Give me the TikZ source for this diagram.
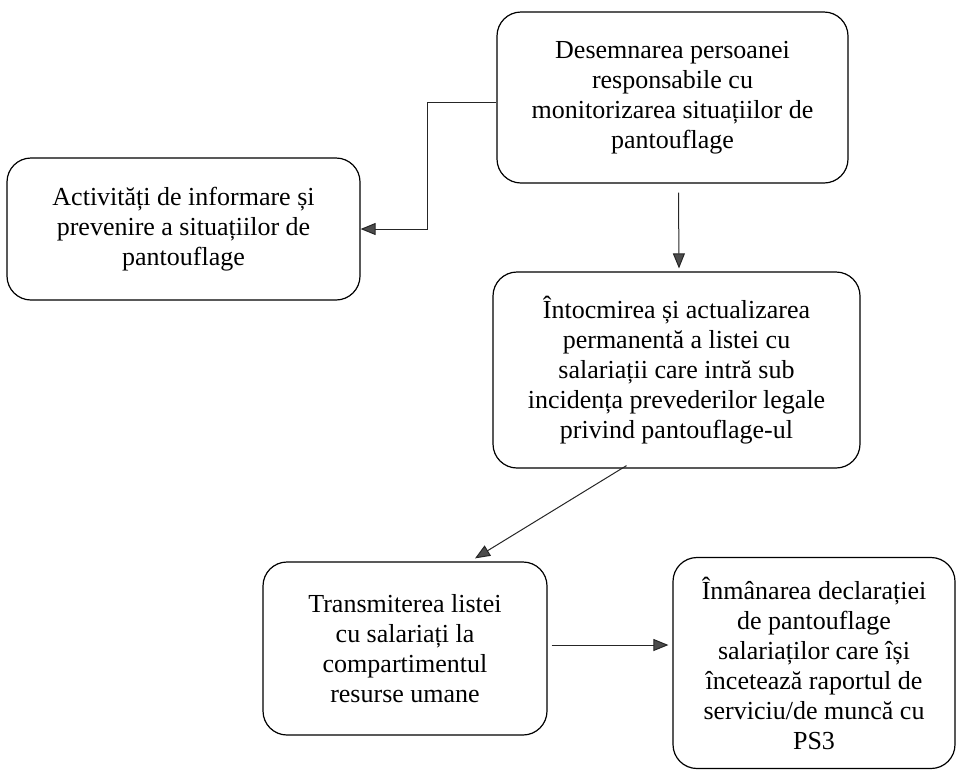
\documentclass[tikz,border=0pt]{standalone}
\usepackage{fontspec}
\setmainfont{Liberation Serif}
\usetikzlibrary{arrows.meta}

\begin{document}
\begin{tikzpicture}[x=1pt, y=-1pt, font=\fontsize{26}{30}\selectfont]
	\tikzstyle{step_box} = [rectangle, rounded corners=24pt, draw, line width=1.2pt,
	align=center, inner sep=0pt]
	\tikzstyle{flow_arrow} = [-{Triangle[length=15pt,width=12pt,fill=black!70]},
	line width=1pt, draw=black!85]
	\useasboundingbox (0,0) rectangle (960,772);
	\node[step_box, minimum width=351pt, minimum height=171pt] (desemn) at (672.5,97.5)
	{Desemnarea persoanei\\responsabile cu\\monitorizarea situațiilor de\\pantouflage};
	\node[step_box, minimum width=353pt, minimum height=142pt] (activ) at (183.5,229)
	{Activități de informare și\\prevenire a situațiilor de\\pantouflage};
	\node[step_box, minimum width=367pt, minimum height=196pt] (intocm) at (676.5,370)
	{Întocmirea și actualizarea\\permanentă a listei cu\\salariații care intră sub\\incidența prevederilor legale\\privind pantouflage-ul};
	\node[step_box, minimum width=284pt, minimum height=173pt] (transm) at (405,648.5)
	{Transmiterea listei\\cu salariați la\\compartimentul\\resurse umane};
	\node[step_box, minimum width=282pt, minimum height=211pt] (inman) at (814,663)
	{Înmânarea declarației\\de pantouflage\\salariaților care își\\încetează raportul de\\serviciu/de muncă cu\\PS3};
	\draw[flow_arrow] ([yshift=-4.5pt]desemn.west) -- ++(-69,0) |- (activ.east);
	\draw[flow_arrow] ([xshift=6pt,yshift=-9pt]desemn.south) -- ([xshift=2.5pt,yshift=3pt]intocm.north);
	\draw[flow_arrow] ([xshift=-50pt,yshift=3pt]intocm.south) -- ([xshift=70pt,yshift=3pt]transm.north);
	\draw[flow_arrow] ([xshift=4pt,yshift=3.5pt]transm.east) -- ([xshift=-4pt,yshift=3.5pt]transm.east -| inman.west);
\end{tikzpicture}
\end{document}
